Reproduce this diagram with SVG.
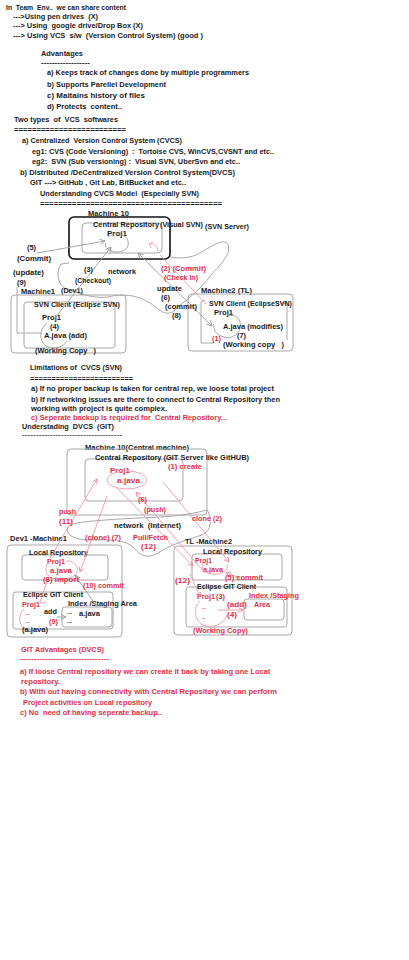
<svg xmlns="http://www.w3.org/2000/svg" width="409" height="960" viewBox="0 0 409 960" xml:space="preserve">
<defs>
<style>
text{font-family:"Liberation Sans",Arial,sans-serif;font-size:8px;font-weight:bold;fill:#1a1a1a;white-space:pre}
text.r{fill:#e0304a}
text.d{font-size:6px}
.g{fill:none;stroke:#a8a8a8;stroke-width:1}
.p{fill:none;stroke:#f29aa6;stroke-width:0.9}
.k{fill:none;stroke:#111;stroke-width:1.6}
</style>
<marker id="ag" viewBox="0 0 8 8" refX="7" refY="4" markerWidth="7" markerHeight="7" orient="auto-start-reverse"><path d="M1,1 L7,4 L1,7" fill="none" stroke="#999" stroke-width="1"/></marker>
<marker id="ap" viewBox="0 0 8 8" refX="7" refY="4" markerWidth="7" markerHeight="7" orient="auto-start-reverse"><path d="M1,1 L7,4 L1,7" fill="none" stroke="#f08090" stroke-width="1"/></marker>
</defs>
<rect width="409" height="960" fill="#fff"/>

<g id="intro">
<text x="6" y="10" textLength="120" lengthAdjust="spacingAndGlyphs">In  Team  Env..  we can share content</text>
<text x="13" y="19" textLength="85" lengthAdjust="spacingAndGlyphs">---&gt;Using pen drives  (X)</text>
<text x="13" y="28" textLength="130" lengthAdjust="spacingAndGlyphs">---&gt; Using  google drive/Drop Box (X)</text>
<text x="13" y="38" textLength="190" lengthAdjust="spacingAndGlyphs">---&gt; Using VCS  s/w  (Version Control System) (good )</text>
<text x="41" y="56" textLength="42" lengthAdjust="spacingAndGlyphs">Advantages</text>
<text x="41" y="65" textLength="49" lengthAdjust="spacingAndGlyphs">------------------</text>
<text x="47" y="75" textLength="202" lengthAdjust="spacingAndGlyphs">a) Keeps track of changes done by multiple programmers</text>
<text x="47" y="87" textLength="119" lengthAdjust="spacingAndGlyphs">b) Supports Parellel Development</text>
<text x="47" y="98" textLength="98" lengthAdjust="spacingAndGlyphs">c) Maitains history of files</text>
<text x="47" y="109" textLength="75" lengthAdjust="spacingAndGlyphs">d) Protects  content..</text>
<text x="14" y="122" textLength="104" lengthAdjust="spacingAndGlyphs">Two types  of  VCS  softwares</text>
<text x="14" y="132" textLength="112" lengthAdjust="spacingAndGlyphs">=========================</text>
<text x="22" y="143" textLength="160" lengthAdjust="spacingAndGlyphs">a) Centralized  Version Control System (CVCS)</text>
<text x="32" y="154" textLength="242" lengthAdjust="spacingAndGlyphs">eg1: CVS (Code Versioning)  :  Tortoise CVS, WinCVS,CVSNT and etc..</text>
<text x="32" y="164" textLength="208" lengthAdjust="spacingAndGlyphs">eg2:  SVN (Sub versioning) :  Visual SVN, UberSvn and etc..</text>
<text x="20" y="175" textLength="215" lengthAdjust="spacingAndGlyphs">b) Distributed /DeCentralized Version Control System(DVCS)</text>
<text x="30" y="185" textLength="156" lengthAdjust="spacingAndGlyphs">GIT ---&gt; GitHub , Git Lab, BitBucket and etc..</text>
<text x="40" y="196" textLength="159" lengthAdjust="spacingAndGlyphs">Understanding CVCS Model  (Especially SVN)</text>
<text x="40" y="206" textLength="182" lengthAdjust="spacingAndGlyphs">========================================</text>
</g>

<g id="cvcs-network">
<path class="g" d="M69,263 L61,264 C56,272 57,284 66,289 C80,293 92,299 108,297 C122,293 138,295 150,303 C160,310 166,317 174,311 C184,301 196,294 208,279 C216,268 232,256 228,245 C224,236 210,248 196,255 C186,259 176,258 170,257"/>
</g>

<g id="svn-server">
<text x="88" y="216" textLength="41" lengthAdjust="spacingAndGlyphs">Machine 10</text>
<rect x="82" y="223" width="80" height="30" rx="4" class="g"/>
<rect x="69" y="217" width="101" height="42" rx="5" class="k"/>
<text x="93" y="227" textLength="66" lengthAdjust="spacingAndGlyphs">Central Repository</text>
<text x="160" y="227" textLength="43" lengthAdjust="spacingAndGlyphs">(Visual SVN)</text>
<text x="205" y="229" textLength="44" lengthAdjust="spacingAndGlyphs">(SVN Server)</text>
<text x="107" y="236" textLength="20" lengthAdjust="spacingAndGlyphs">Proj1</text>
<path class="g" d="M108,237 C114,232 126,233 128,241 C130,249 122,253 115,252 C108,251 104,247 106,243"/>
<path class="p" d="M158,251 C157,245 153,243 149,244 M149,244 L153,242 M149,244 L151,248"/>
</g>

<g id="svn-machine1">
<text x="21" y="294" textLength="34" lengthAdjust="spacingAndGlyphs">Machine1</text>
<text x="61" y="293" textLength="22" lengthAdjust="spacingAndGlyphs">(Dev1)</text>
<rect x="11" y="295" width="115" height="58" rx="4" class="g"/>
<rect x="24" y="302" width="91" height="46" rx="3" class="g"/>
<text x="34" y="307" textLength="86" lengthAdjust="spacingAndGlyphs">SVN Client (Eclipse SVN)</text>
<text x="42" y="320" textLength="19" lengthAdjust="spacingAndGlyphs">Proj1</text>
<text x="50" y="329" textLength="9" lengthAdjust="spacingAndGlyphs">(4)</text>
<text x="44" y="338" textLength="43" lengthAdjust="spacingAndGlyphs">A.java (add)</text>
<path class="g" d="M47,323 C40,328 38,340 46,346 C54,350 64,347 67,341"/>
<text x="35" y="353" textLength="61" lengthAdjust="spacingAndGlyphs">(Working Copy   )</text>
</g>

<g id="svn-machine2">
<text x="201" y="293" textLength="51" lengthAdjust="spacingAndGlyphs">Machine2 (TL)</text>
<rect x="188" y="294" width="105" height="57" rx="4" class="g"/>
<path class="g" d="M205,300 L201,302 L201,343 L214,343 M280,303 L287,303 L287,340"/>
<text x="209" y="306" textLength="83" lengthAdjust="spacingAndGlyphs">SVN Client (EclipseSVN)</text>
<text x="214" y="315" textLength="19" lengthAdjust="spacingAndGlyphs">Proj1</text>
<path class="g" d="M228,316 C236,313 242,320 240,328 C238,336 230,339 224,337 C216,335 213,330 214,324"/>
<text x="223" y="329" textLength="60" lengthAdjust="spacingAndGlyphs">A.java (modifies)</text>
<text x="237" y="338" textLength="9" lengthAdjust="spacingAndGlyphs">(7)</text>
<text class="r" x="212" y="341" textLength="9" lengthAdjust="spacingAndGlyphs">(1)</text>
<text x="223" y="347" textLength="61" lengthAdjust="spacingAndGlyphs">(Working copy   )</text>
</g>

<g id="cvcs-connectors">
<line class="g" x1="37" y1="253" x2="105" y2="241" marker-end="url(#ag)"/>
<polyline class="g" points="42,333 17,333 17,287"/>
<line class="g" x1="55" y1="318" x2="111" y2="247" marker-end="url(#ag)"/>
<line class="g" x1="212" y1="326" x2="138" y2="253" marker-start="url(#ag)" marker-end="url(#ag)"/>
<line class="p" x1="206" y1="304" x2="160" y2="255"/>
</g>

<g id="cvcs-labels">
<text x="27" y="250" textLength="9" lengthAdjust="spacingAndGlyphs">(5)</text>
<text x="17" y="261" textLength="34" lengthAdjust="spacingAndGlyphs">(Commit)</text>
<text x="13" y="275" textLength="31" lengthAdjust="spacingAndGlyphs">(update)</text>
<text x="17" y="285" textLength="9" lengthAdjust="spacingAndGlyphs">(9)</text>
<text x="84" y="272" textLength="9" lengthAdjust="spacingAndGlyphs">(3)</text>
<text x="75" y="283" textLength="36" lengthAdjust="spacingAndGlyphs">(Checkout)</text>
<text x="108" y="274" textLength="28" lengthAdjust="spacingAndGlyphs">network</text>
<text class="r" x="161" y="271" textLength="45" lengthAdjust="spacingAndGlyphs">(2) (Commit)</text>
<text class="r" x="164" y="280" textLength="34" lengthAdjust="spacingAndGlyphs">(Check in)</text>
<text x="157" y="291" textLength="25" lengthAdjust="spacingAndGlyphs">update</text>
<text x="161" y="300" textLength="9" lengthAdjust="spacingAndGlyphs">(6)</text>
<text x="165" y="309" textLength="32" lengthAdjust="spacingAndGlyphs">(commit)</text>
<text x="172" y="318" textLength="9" lengthAdjust="spacingAndGlyphs">(8)</text>
</g>

<g id="limitations">
<text x="30" y="370" textLength="92" lengthAdjust="spacingAndGlyphs">Limitations of  CVCS (SVN)</text>
<text x="30" y="381" textLength="103" lengthAdjust="spacingAndGlyphs">========================</text>
<text x="31" y="391" textLength="243" lengthAdjust="spacingAndGlyphs">a) If no proper backup is taken for central rep, we loose total project</text>
<text x="31" y="402" textLength="249" lengthAdjust="spacingAndGlyphs">b) If networking issues are there to connect to Central Repository then</text>
<text x="31" y="411" textLength="136" lengthAdjust="spacingAndGlyphs">working with project is quite complex.</text>
<text class="r" x="31" y="420" textLength="196" lengthAdjust="spacingAndGlyphs">c) Seperate backup is required for  Central Repository...</text>
<text x="22" y="429" textLength="92" lengthAdjust="spacingAndGlyphs">Understading  DVCS  (GIT)</text>
<text x="22" y="437" textLength="100" lengthAdjust="spacingAndGlyphs" style="fill:#555">------------------------------------</text>
</g>

<g id="git-server">
<text x="85" y="450" textLength="104" lengthAdjust="spacingAndGlyphs">Machine 10(Central machine)</text>
<rect x="67" y="449" width="140" height="66" rx="4" class="g"/>
<rect x="85" y="459" width="98" height="42" rx="4" class="g"/>
<text x="95" y="460" textLength="154" lengthAdjust="spacingAndGlyphs">Central Repository (GIT Server like GitHUB)</text>
<text class="r" x="168" y="469" textLength="34" lengthAdjust="spacingAndGlyphs">(1) create</text>
<text class="r" x="110" y="473" textLength="20" lengthAdjust="spacingAndGlyphs">Proj1</text>
<text class="r" x="117" y="483" textLength="23" lengthAdjust="spacingAndGlyphs">a.java</text>
<ellipse cx="127" cy="480" rx="20" ry="9" class="p"/>
</g>

<g id="git-network">
<path class="g" d="M207,510 C196,513 180,516 160,517 C140,518 110,519 84,522 C74,523 67,525 67,530 C68,536 76,540 90,540 C110,540 126,539 134,548 C140,556 148,559 158,553 C170,545 186,540 202,535 C212,531 212,518 207,510 Z"/>
</g>

<g id="dev1-machine">
<text x="10" y="541" textLength="57" lengthAdjust="spacingAndGlyphs">Dev1 -Machine1</text>
<rect x="7" y="545" width="115" height="92" rx="4" class="g"/>
<rect x="22" y="555" width="86" height="25" rx="3" class="g"/>
<text x="29" y="555" textLength="59" lengthAdjust="spacingAndGlyphs">Local Repository</text>
<text class="r" x="47" y="564" textLength="18" lengthAdjust="spacingAndGlyphs">Proj1</text>
<text class="r" x="50" y="573" textLength="22" lengthAdjust="spacingAndGlyphs">a.java</text>
<path class="p" d="M50,561 C44,565 44,575 52,578 C62,581 74,579 77,572 C79,565 72,560 66,561"/>
<rect x="13" y="592" width="100" height="37" rx="3" class="g"/>
<text x="23" y="597" textLength="60" lengthAdjust="spacingAndGlyphs">Eclipse GIT Client</text>
<text x="68" y="606" textLength="69" lengthAdjust="spacingAndGlyphs">Index /Staging Area</text>
<rect x="62" y="607" width="50" height="20" rx="3" class="g"/>
<text class="r" x="22" y="607" textLength="18" lengthAdjust="spacingAndGlyphs">Proj1</text>
<text class="r d" x="25" y="615">...</text>
<text class="r d" x="25" y="623">...</text>
<path class="p" d="M24,609 C18,614 18,626 26,630 C32,632 38,630 40,626"/>
<text x="44" y="614" textLength="13" lengthAdjust="spacingAndGlyphs">add</text>
<text class="r" x="49" y="624" textLength="9" lengthAdjust="spacingAndGlyphs">(9)</text>
<text x="22" y="632" textLength="26" lengthAdjust="spacingAndGlyphs">(a.java)</text>
<text class="d" x="67" y="614">...</text>
<text x="79" y="616" textLength="21" lengthAdjust="spacingAndGlyphs">a.java</text>
<text class="d" x="67" y="623">...</text>
</g>

<g id="tl-machine">
<text x="185" y="544" textLength="47" lengthAdjust="spacingAndGlyphs">TL -Machine2</text>
<rect x="174" y="546" width="118" height="89" rx="4" class="g"/>
<rect x="192" y="554" width="90" height="26" rx="3" class="g"/>
<text x="203" y="554" textLength="59" lengthAdjust="spacingAndGlyphs">Local Repository</text>
<text class="r" x="195" y="563" textLength="17" lengthAdjust="spacingAndGlyphs">Proj1</text>
<text class="r" x="203" y="572" textLength="20" lengthAdjust="spacingAndGlyphs">a.java</text>
<path class="p" d="M204,560 C200,565 202,573 212,574 C222,575 229,570 227,564"/>
<rect x="186" y="587" width="101" height="40" rx="3" class="g"/>
<text x="197" y="589" textLength="59" lengthAdjust="spacingAndGlyphs">Eclipse GIT Client</text>
<rect x="244" y="599" width="40" height="21" rx="3" class="g"/>
<text class="r" x="249" y="598" textLength="50" lengthAdjust="spacingAndGlyphs">Index /Staging</text>
<text class="r" x="254" y="607" textLength="16" lengthAdjust="spacingAndGlyphs">Area</text>
<text class="r" x="197" y="599" textLength="18" lengthAdjust="spacingAndGlyphs">Proj1</text>
<text class="r" x="216" y="599" textLength="9" lengthAdjust="spacingAndGlyphs">(3)</text>
<text class="r d" x="202" y="609">..</text>
<text class="r d" x="202" y="619">..</text>
<path class="p" d="M200,601 C193,607 194,620 203,625 C213,629 224,624 227,615"/>
<text class="r" x="227" y="607" textLength="20" lengthAdjust="spacingAndGlyphs">(add)</text>
<text class="r" x="227" y="617" textLength="10" lengthAdjust="spacingAndGlyphs">(4)</text>
<text class="r" x="193" y="633" textLength="55" lengthAdjust="spacingAndGlyphs">(Working Copy)</text>
</g>

<g id="dvcs-connectors">
<line class="p" x1="50" y1="558" x2="97" y2="479" marker-end="url(#ap)"/>
<line class="p" x1="107" y1="496" x2="80" y2="572" marker-end="url(#ap)"/>
<line class="p" x1="117" y1="488" x2="193" y2="566" marker-end="url(#ap)"/>
<line class="p" x1="163" y1="482" x2="229" y2="562" marker-end="url(#ap)"/>
<line class="p" x1="205" y1="573" x2="136" y2="492" marker-end="url(#ap)"/>
<line class="p" x1="48" y1="579" x2="40" y2="602"/>
<line class="p" x1="40" y1="603" x2="46" y2="602"/>
<line class="g" x1="97" y1="607" x2="75" y2="575" marker-end="url(#ag)"/>
<line class="g" x1="57" y1="617" x2="66" y2="617" marker-end="url(#ag)"/>
<line class="p" x1="190" y1="574" x2="200" y2="597" marker-end="url(#ap)"/>
<line class="p" x1="218" y1="610" x2="243" y2="610" marker-end="url(#ap)"/>
<line class="p" x1="240" y1="578" x2="226" y2="573" marker-end="url(#ap)"/>
</g>

<g id="dvcs-labels">
<text class="r" x="138" y="502" textLength="9" lengthAdjust="spacingAndGlyphs">(6)</text>
<text class="r" x="144" y="512" textLength="22" lengthAdjust="spacingAndGlyphs">(push)</text>
<text class="r" x="59" y="514" textLength="17" lengthAdjust="spacingAndGlyphs">push</text>
<text class="r" x="59" y="524" textLength="14" lengthAdjust="spacingAndGlyphs">(11)</text>
<text x="114" y="528" textLength="67" lengthAdjust="spacingAndGlyphs">network  (internet)</text>
<text class="r" x="192" y="521" textLength="30" lengthAdjust="spacingAndGlyphs">clone (2)</text>
<text class="r" x="85" y="540" textLength="36" lengthAdjust="spacingAndGlyphs">(clone) (7)</text>
<text class="r" x="133" y="540" textLength="35" lengthAdjust="spacingAndGlyphs">Pull/Fetch</text>
<text class="r" x="141" y="549" textLength="15" lengthAdjust="spacingAndGlyphs">(12)</text>
<text class="r" x="43" y="582" textLength="36" lengthAdjust="spacingAndGlyphs">(8) import</text>
<text class="r" x="83" y="588" textLength="41" lengthAdjust="spacingAndGlyphs">(10) commit</text>
<text class="r" x="225" y="580" textLength="38" lengthAdjust="spacingAndGlyphs">(5) commit</text>
<text class="r" x="175" y="583" textLength="15" lengthAdjust="spacingAndGlyphs">(12)</text>
</g>

<g id="git-advantages">
<text class="r" x="21" y="652" textLength="83" lengthAdjust="spacingAndGlyphs">GIT Advantages (DVCS)</text>
<text class="r" x="20" y="661" textLength="89" lengthAdjust="spacingAndGlyphs">--------------------------------</text>
<text class="r" x="20" y="674" textLength="250" lengthAdjust="spacingAndGlyphs">a) If loose Central repository we can create it back by taking one Local</text>
<text class="r" x="21" y="684" textLength="39" lengthAdjust="spacingAndGlyphs">repository.</text>
<text class="r" x="20" y="694" textLength="257" lengthAdjust="spacingAndGlyphs">b) With out having connectivity with Central Repository we can perform</text>
<text class="r" x="23" y="705" textLength="129" lengthAdjust="spacingAndGlyphs">Project activities on Local repository</text>
<text class="r" x="20" y="715" textLength="142" lengthAdjust="spacingAndGlyphs">c) No  need of having seperate backup..</text>
</g>
</svg>
